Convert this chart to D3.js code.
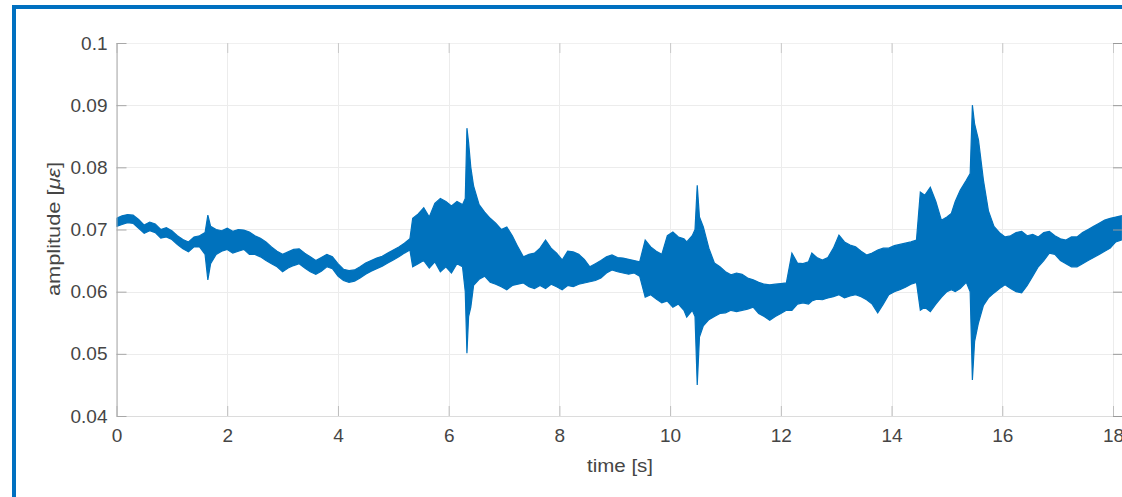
<!DOCTYPE html>
<html>
<head>
<meta charset="utf-8">
<script src="https://cdn.jsdelivr.net/npm/d3@7"></script>
<style>
  html, body { margin: 0; padding: 0; background: #fff; }
  svg { display: block; }
  text { font-family: "Liberation Sans", Arial, sans-serif; }
</style>
</head>
<body>
<svg id="chart" width="1122" height="497"></svg>
<script>
// ---- data (envelope of the signal) ----
const time = [0.00,0.10,0.20,0.30,0.40,0.50,0.60,0.70,0.80,0.90,1.00,1.10,1.20,1.30,1.40,1.50,1.60,1.65,1.70,1.80,1.90,2.00,2.10,2.20,2.30,2.40,2.50,2.60,2.70,2.80,2.90,3.00,3.10,3.20,3.30,3.40,3.50,3.60,3.70,3.80,3.90,4.00,4.10,4.20,4.30,4.40,4.50,4.60,4.70,4.80,4.90,5.00,5.10,5.20,5.30,5.35,5.45,5.55,5.65,5.75,5.85,5.95,6.05,6.15,6.25,6.30,6.33,6.36,6.40,6.45,6.55,6.65,6.75,6.85,6.95,7.05,7.15,7.25,7.35,7.45,7.55,7.65,7.75,7.85,7.95,8.05,8.15,8.25,8.35,8.45,8.55,8.65,8.75,8.85,8.95,9.05,9.15,9.25,9.35,9.45,9.55,9.65,9.75,9.85,9.95,10.05,10.15,10.25,10.30,10.40,10.45,10.49,10.53,10.60,10.70,10.80,10.90,11.00,11.10,11.20,11.30,11.40,11.50,11.60,11.70,11.80,11.90,12.00,12.10,12.20,12.30,12.40,12.50,12.56,12.65,12.75,12.85,12.95,13.05,13.15,13.25,13.35,13.45,13.55,13.65,13.75,13.85,13.95,14.05,14.15,14.25,14.35,14.45,14.52,14.60,14.70,14.80,14.90,15.00,15.08,15.15,15.24,15.35,15.42,15.46,15.50,15.57,15.66,15.75,15.85,15.95,16.05,16.15,16.25,16.35,16.45,16.55,16.65,16.75,16.85,16.95,17.05,17.15,17.25,17.35,17.45,17.55,17.65,17.75,17.85,17.95,18.05,18.15];
const upper = [0.0718,0.0722,0.0724,0.0723,0.0716,0.0707,0.0712,0.0709,0.0700,0.0703,0.0698,0.0690,0.0684,0.0680,0.0688,0.0690,0.0695,0.0723,0.0705,0.0700,0.0698,0.0702,0.0697,0.0700,0.0699,0.0696,0.0690,0.0686,0.0680,0.0672,0.0665,0.0660,0.0664,0.0668,0.0669,0.0662,0.0656,0.0650,0.0655,0.0660,0.0656,0.0645,0.0636,0.0634,0.0635,0.0640,0.0646,0.0650,0.0654,0.0657,0.0662,0.0667,0.0672,0.0678,0.0685,0.0718,0.0725,0.0735,0.0720,0.0742,0.0750,0.0745,0.0738,0.0745,0.0740,0.0750,0.0863,0.0840,0.0800,0.0770,0.0740,0.0728,0.0718,0.0710,0.0700,0.0704,0.0690,0.0672,0.0656,0.0660,0.0662,0.0670,0.0683,0.0670,0.0662,0.0651,0.0665,0.0664,0.0660,0.0652,0.0640,0.0645,0.0650,0.0656,0.0659,0.0655,0.0654,0.0652,0.0650,0.0648,0.0683,0.0672,0.0665,0.0660,0.0690,0.0696,0.0688,0.0685,0.0680,0.0690,0.0700,0.0771,0.0720,0.0704,0.0670,0.0646,0.0640,0.0632,0.0627,0.0630,0.0628,0.0622,0.0619,0.0615,0.0612,0.0611,0.0612,0.0613,0.0614,0.0662,0.0646,0.0645,0.0648,0.0662,0.0655,0.0651,0.0655,0.0670,0.0691,0.0680,0.0675,0.0672,0.0665,0.0659,0.0662,0.0667,0.0670,0.0670,0.0674,0.0676,0.0678,0.0680,0.0683,0.0760,0.0755,0.0768,0.0745,0.0715,0.0720,0.0726,0.0745,0.0763,0.0779,0.0790,0.0900,0.0870,0.0844,0.0779,0.0730,0.0705,0.0695,0.0688,0.0690,0.0695,0.0697,0.0690,0.0692,0.0688,0.0695,0.0697,0.0690,0.0685,0.0683,0.0688,0.0688,0.0695,0.0700,0.0705,0.0710,0.0715,0.0718,0.0720,0.0722];
const lower = [0.0705,0.0708,0.0711,0.0710,0.0702,0.0694,0.0698,0.0695,0.0686,0.0688,0.0684,0.0676,0.0669,0.0664,0.0672,0.0672,0.0660,0.0619,0.0645,0.0660,0.0665,0.0668,0.0662,0.0665,0.0668,0.0660,0.0660,0.0656,0.0650,0.0645,0.0640,0.0632,0.0638,0.0642,0.0645,0.0638,0.0632,0.0628,0.0633,0.0640,0.0637,0.0625,0.0618,0.0615,0.0617,0.0622,0.0628,0.0633,0.0637,0.0641,0.0646,0.0651,0.0656,0.0662,0.0667,0.0640,0.0645,0.0650,0.0638,0.0648,0.0632,0.0640,0.0630,0.0645,0.0640,0.0600,0.0501,0.0560,0.0575,0.0610,0.0620,0.0625,0.0615,0.0612,0.0608,0.0603,0.0610,0.0612,0.0614,0.0608,0.0605,0.0610,0.0605,0.0612,0.0608,0.0603,0.0610,0.0608,0.0612,0.0614,0.0616,0.0618,0.0622,0.0630,0.0635,0.0632,0.0630,0.0628,0.0630,0.0625,0.0591,0.0595,0.0588,0.0582,0.0585,0.0575,0.0580,0.0570,0.0559,0.0570,0.0560,0.0450,0.0527,0.0545,0.0555,0.0560,0.0565,0.0566,0.0570,0.0568,0.0570,0.0572,0.0575,0.0565,0.0560,0.0554,0.0560,0.0565,0.0570,0.0570,0.0580,0.0582,0.0580,0.0585,0.0588,0.0587,0.0590,0.0592,0.0595,0.0590,0.0593,0.0595,0.0592,0.0587,0.0580,0.0566,0.0580,0.0595,0.0600,0.0603,0.0607,0.0612,0.0615,0.0570,0.0575,0.0568,0.0580,0.0591,0.0600,0.0603,0.0600,0.0605,0.0615,0.0600,0.0458,0.0520,0.0550,0.0578,0.0590,0.0598,0.0605,0.0611,0.0605,0.0600,0.0598,0.0610,0.0625,0.0640,0.0650,0.0662,0.0660,0.0650,0.0645,0.0640,0.0640,0.0645,0.0650,0.0655,0.0660,0.0665,0.0670,0.0680,0.0683];
const xTicks = [0, 2, 4, 6, 8, 10, 12, 14, 16, 18];
const xTickLabels = ["0", "2", "4", "6", "8", "10", "12", "14", "16", "18"];
const yTicks = [0.04, 0.05, 0.06, 0.07, 0.08, 0.09, 0.1];
const yTickLabels = ["0.04", "0.05", "0.06", "0.07", "0.08", "0.09", "0.1"];
const xLabel = "time [s]";

// ---- layout ----
const svg = d3.select("#chart");
const W = 1122, H = 497;
const plot = { left: 116.5, right: 1123, top: 43, bottom: 416 };
const x = d3.scaleLinear().domain([0, 18]).range([116.5, 1113]);
const y = d3.scaleLinear().domain([0.04, 0.1]).range([plot.bottom, plot.top]);
const txt = "#454545";

svg.append("rect").attr("width", W).attr("height", H).attr("fill", "#fff");

// blue frame
svg.append("rect").attr("x", 12).attr("y", 5).attr("width", W - 12).attr("height", 4).attr("fill", "#0070C0");
svg.append("rect").attr("x", 12).attr("y", 5).attr("width", 4).attr("height", H - 5).attr("fill", "#0070C0");

// grid
const grid = svg.append("g").attr("stroke", "#ececec").attr("stroke-width", 1);
xTicks.forEach(t => grid.append("line")
  .attr("x1", Math.round(x(t)) + 0.5).attr("x2", Math.round(x(t)) + 0.5)
  .attr("y1", plot.top).attr("y2", plot.bottom));
yTicks.forEach(t => grid.append("line")
  .attr("x1", plot.left).attr("x2", plot.right)
  .attr("y1", Math.round(y(t)) + 0.5).attr("y2", Math.round(y(t)) + 0.5));

// signal
svg.append("defs").append("clipPath").attr("id", "clip")
  .append("rect").attr("x", plot.left).attr("y", plot.top)
  .attr("width", plot.right - plot.left).attr("height", plot.bottom - plot.top);

const pts = time.map((t, i) => ({ t, hi: upper[i], lo: lower[i] }));
const area = d3.area().x(d => x(d.t)).y0(d => y(d.lo)).y1(d => y(d.hi)).curve(d3.curveLinear);
svg.append("path").datum(pts).attr("clip-path", "url(#clip)")
  .attr("d", area).attr("fill", "#0072BD").attr("stroke", "#0072BD").attr("stroke-width", 1.2)
  .attr("stroke-linejoin", "miter");

// axes (MATLAB-like: ticks inward on all four sides)
const tickLen = 10;
const xAxisB = d3.axisBottom(x).tickValues(xTicks).tickFormat((d, i) => xTickLabels[i]).tickSizeInner(-tickLen).tickSizeOuter(0).tickPadding(13);
const gx = svg.append("g").attr("transform", `translate(0,${plot.bottom})`).call(xAxisB);
gx.select(".domain").attr("stroke", "#dcdcdc");
gx.selectAll(".tick line").attr("stroke", "#bdbdbd");
gx.selectAll(".tick text").attr("fill", txt).style("font-size", "19px");

const xAxisT = d3.axisTop(x).tickValues(xTicks).tickFormat("").tickSizeInner(-tickLen).tickSizeOuter(0);
const gxt = svg.append("g").attr("transform", `translate(0,${plot.top})`).call(xAxisT);
gxt.select(".domain").attr("stroke", "#f0f0f0");
gxt.selectAll(".tick line").attr("stroke", "#c8c8c8");

const yAxisL = d3.axisLeft(y).tickValues(yTicks).tickFormat((d, i) => yTickLabels[i]).tickSizeInner(-tickLen).tickSizeOuter(0).tickPadding(9);
const gy = svg.append("g").attr("transform", `translate(${plot.left},0)`).call(yAxisL);
gy.select(".domain").attr("stroke", "#a8a8a8");
gy.selectAll(".tick line").attr("stroke", "#a8a8a8");
gy.selectAll(".tick text").attr("fill", txt).style("font-size", "19px");

const yAxisR = d3.axisRight(y).tickValues(yTicks).tickFormat("").tickSizeInner(-tickLen).tickSizeOuter(0);
const gyr = svg.append("g").attr("transform", `translate(${plot.right},0)`).call(yAxisR);
gyr.select(".domain").attr("stroke", "#a8a8a8");
gyr.selectAll(".tick line").attr("stroke", "#9a9a9a");

// axis labels
svg.append("text").attr("x", 620).attr("y", 472).attr("text-anchor", "middle")
  .attr("fill", txt).style("font-size", "19px")
  .attr("textLength", 66).attr("lengthAdjust", "spacingAndGlyphs").text(xLabel);

const yl = svg.append("text").attr("transform", "translate(60,229) rotate(-90)")
  .attr("text-anchor", "middle").attr("fill", txt).style("font-size", "19px")
  .attr("textLength", 134).attr("lengthAdjust", "spacingAndGlyphs");
yl.append("tspan").text("amplitude [");
yl.append("tspan").style("font-style", "italic").text("με");
yl.append("tspan").text("]");
</script>
</body>
</html>
